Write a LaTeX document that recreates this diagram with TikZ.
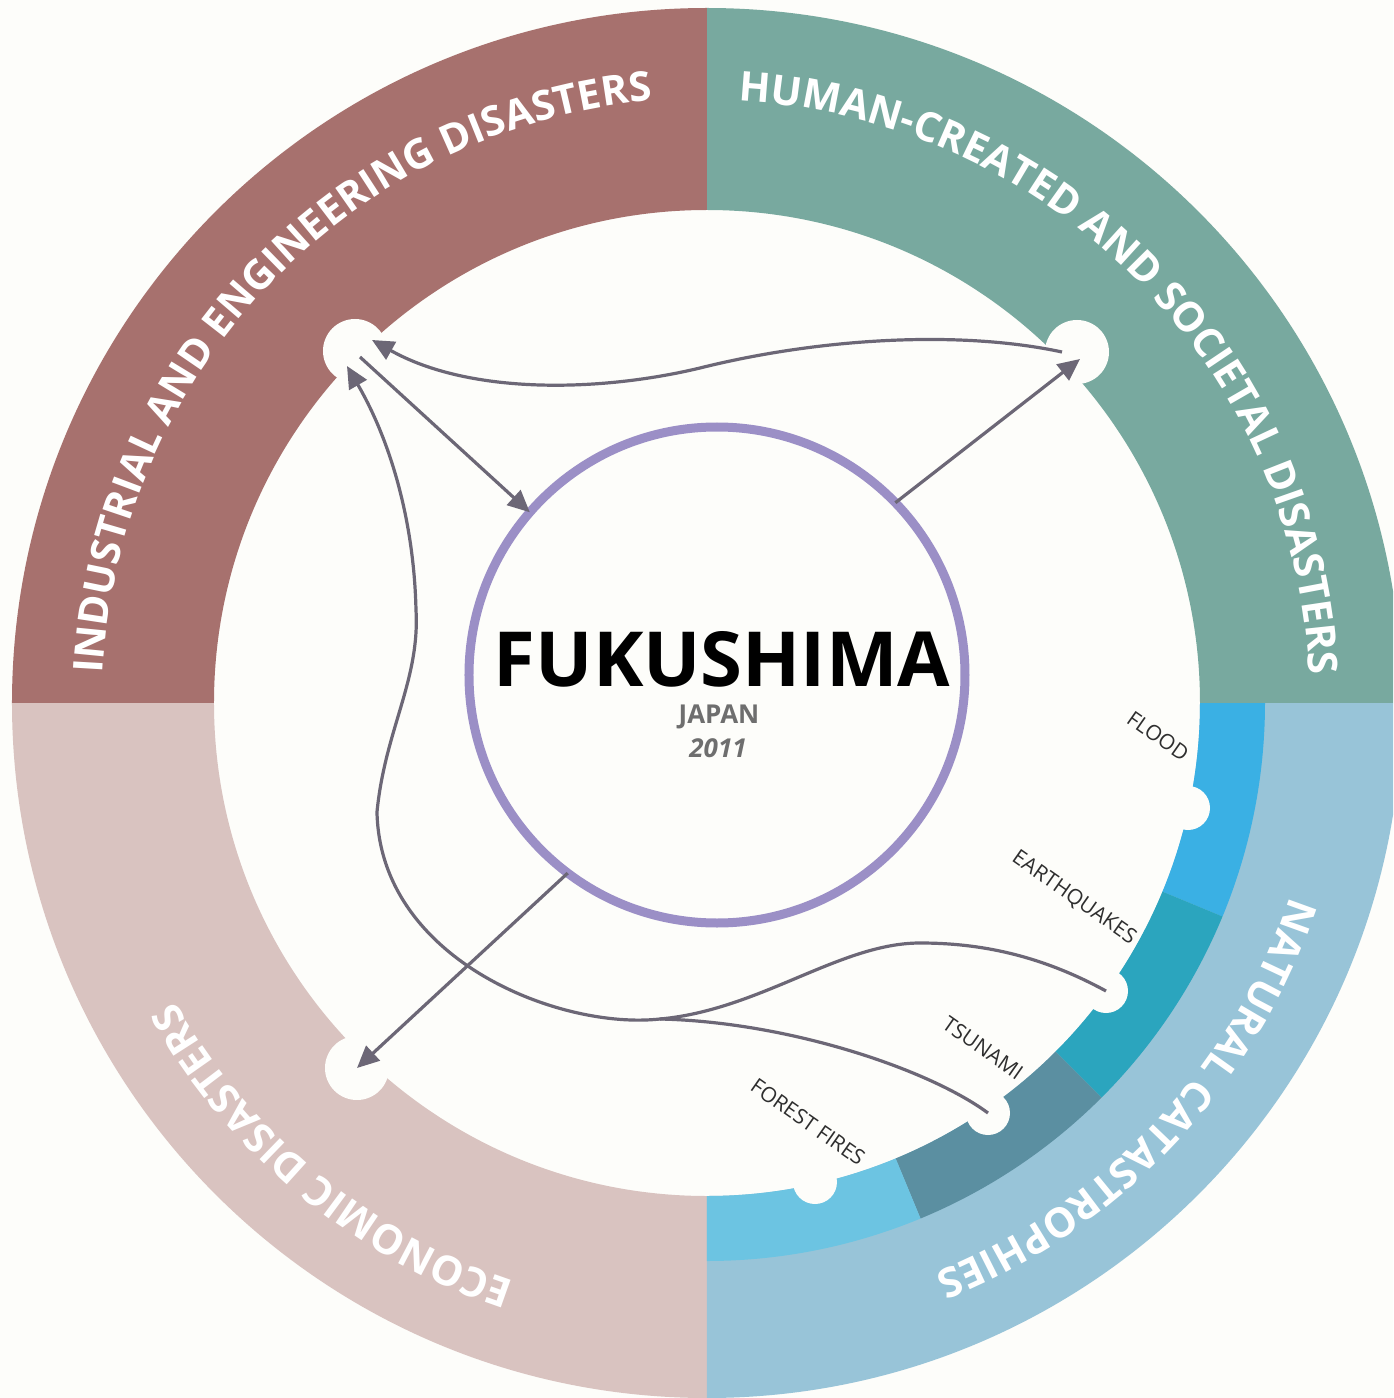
\documentclass[tikz,border=0pt]{standalone}
\usepackage{fontspec}
\setmainfont{Open Sans}
\usetikzlibrary{arrows.meta,calc,decorations.text}

\definecolor{bgcol}{HTML}{FDFDFA}
\definecolor{indcol}{HTML}{A7716E}
\definecolor{humcol}{HTML}{78A99F}
\definecolor{ecocol}{HTML}{D9C3C0}
\definecolor{natcol}{HTML}{98C4D8}
\definecolor{floodcol}{HTML}{3AB0E4}
\definecolor{quakecol}{HTML}{2BA5BE}
\definecolor{tsucol}{HTML}{5B8FA1}
\definecolor{firecol}{HTML}{6CC4E2}
\definecolor{ringpurple}{HTML}{9B8FC6}
\definecolor{linkgray}{HTML}{6C6776}
\definecolor{labelgray}{HTML}{2E2E2E}
\definecolor{subgray}{HTML}{6E6E6E}

% annular sector: colour, start angle, end angle, inner radius, outer radius
\newcommand{\ringsector}[5]{%
  \fill[#1] (#2:#5) arc[start angle=#2, end angle=#3, radius=#5]
    -- (#3:#4) arc[start angle=#3, end angle=#2, radius=#4] -- cycle;}
\newcommand{\ringfont}{\bfseries\fontsize{41}{41}\selectfont\color{white}}
% text set clockwise along a circle: start angle, end angle, radius, text
\newcommand{\arclabel}[4]{%
  \path[decorate, decoration={text along path, text align=center,
      text={|\ringfont|#4}}]
    (#1:#3) arc[start angle=#1, end angle=#2, radius=#3];}

\tikzset{
  bigdot/.style={circle, fill=bgcol, inner sep=0pt, outer sep=0pt, minimum size=64pt},
  smalldot/.style={circle, fill=bgcol, inner sep=0pt, outer sep=0pt, minimum size=44pt},
  link/.style={draw=linkgray, line width=3.2pt},
  tip/.style={-{Triangle[length=22pt, width=20pt]}},
  hazard/.style={font=\fontsize{21}{21}\selectfont, text=labelgray, inner sep=0pt, rotate=-35},
}

\begin{document}
\begin{tikzpicture}[x=1pt, y=1pt]
  \useasboundingbox (-707,-695) rectangle (686,703);
  \clip (-707,-695) rectangle (686,703);
  \fill[bgcol] (-707,-695) rectangle (686,703);

  % outer ring, one quadrant per family of disasters
  \ringsector{humcol}{0}{90}{493}{695}
  \ringsector{indcol}{90}{180}{493}{695}
  \ringsector{ecocol}{180}{270}{493}{695}
  \ringsector{natcol}{-90}{0}{493}{695}

  % inner band of the natural quadrant
  \ringsector{floodcol}{0}{-22.5}{493}{558}
  \ringsector{quakecol}{-22.5}{-45}{493}{558}
  \ringsector{tsucol}{-45}{-67.5}{493}{558}
  \ringsector{firecol}{-67.5}{-90}{493}{558}

  % ring titles
  \arclabel{186.2}{86.2}{605}{INDUSTRIAL AND ENGINEERING DISASTERS}
  \arclabel{94.85}{-5.15}{603}{HUMAN-CREATED AND SOCIETAL DISASTERS}
  \arclabel{-3.25}{-83.25}{614}{NATURAL CATASTROPHIES}
  \arclabel{270.45}{190.45}{610}{ECONOMIC DISASTERS}

  % hazard labels
  \node[hazard] (lflood) at (451,-33) {FLOOD};
  \node[hazard] (lquake) at (367,-195) {EARTHQUAKES};
  \node[hazard] (ltsu) at (276,-345) {TSUNAMI};
  \node[hazard] (lfire) at (101,-419) {FOREST FIRES};

  % centre
  \node[font=\bfseries\fontsize{76}{76}\selectfont, anchor=base, inner sep=0pt] (title) at (15,17) {FUKUSHIMA};
  \node[font=\bfseries\fontsize{26}{26}\selectfont, text=subgray, anchor=base, inner sep=0pt] (country) at (12,-20) {JAPAN};
  \node[font=\bfseries\itshape\fontsize{26}{26}\selectfont, text=subgray, anchor=base, inner sep=0pt] (year) at (11,-54) {2011};

  % nodes and links, in page pixel coordinates
  \begin{scope}[shift={(-707,703)}, y=-1pt]
    \node[bigdot] (ind) at (355,351) {};
    \node[bigdot] (hum) at (1077,352) {};
    \node[bigdot] (eco) at (357,1068) {};
    \node[smalldot] (flood) at (1188,808) {};
    \node[smalldot] (eq) at (1106,991) {};
    \node[smalldot] (tsu) at (988,1113) {};
    \node[smalldot] (fire) at (815,1182) {};

    \node[circle, draw=ringpurple, line width=9pt, minimum size=496pt,
          inner sep=0pt, outer sep=0pt] (fuk) at (717,675) {};

    \coordinate (jn) at (660,1019);

    \draw[link, tip] ($(ind)+(5,6)$) -- (fuk.139.5);
    \draw[link, tip] (fuk.44) -- ($(hum)+(3,7)$);
    \draw[link, tip] (fuk.233) -- (eco.center);
    \draw[link, tip] ($(hum)+(-15,0)$) .. controls (960,330) and (820,338) .. (700,368)
      .. controls (600,392) and (470,395) .. ($(ind)+(17,-11)$);
    \draw[link] (eq.center) .. controls (1040,955) and (980,943) .. (920,943)
      .. controls (840,943) and (760,1010) .. (jn);
    \draw[link] (tsu.center) .. controls (930,1070) and (790,1022) .. (jn);
    \draw[link, tip] (jn) .. controls (560,1030) and (380,960) .. (377,812)
      .. controls (385,730) and (420,680) .. (416,610)
      .. controls (414,520) and (390,440) .. ($(ind)+(-8,15)$);
  \end{scope}
\end{tikzpicture}
\end{document}
